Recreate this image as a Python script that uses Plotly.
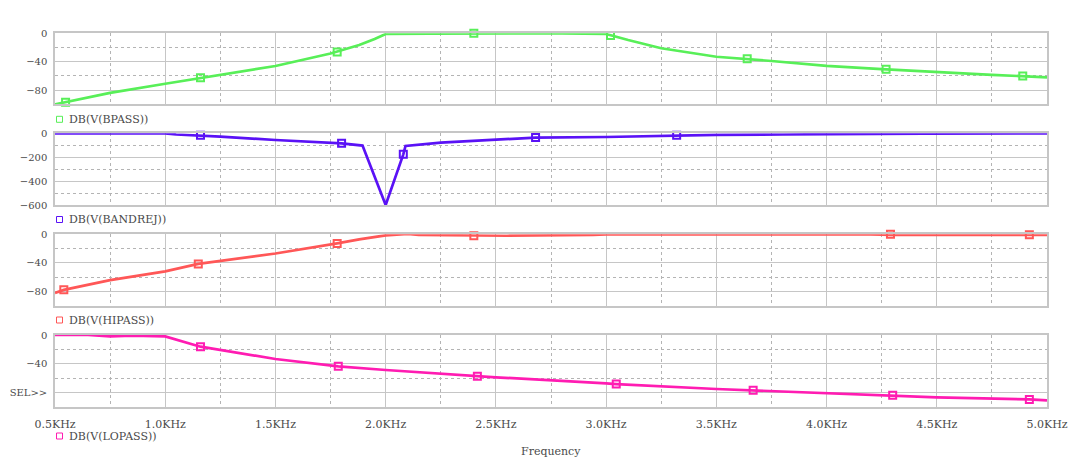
import plotly.graph_objects as go

# ---------------- data ----------------
freq_ticks = [0.5, 1.0, 1.5, 2.0, 2.5, 3.0, 3.5, 4.0, 4.5, 5.0]
freq_labels = ["0.5KHz", "1.0KHz", "1.5KHz", "2.0KHz", "2.5KHz",
               "3.0KHz", "3.5KHz", "4.0KHz", "4.5KHz", "5.0KHz"]

bpass_f = [0.5, 0.75, 1.0, 1.25, 1.5, 1.75, 1.88, 1.95, 2.0, 2.2, 2.4, 2.6,
           2.8, 3.0, 3.1, 3.25, 3.37, 3.5, 3.75, 4.0, 4.25, 4.5, 4.75, 5.0]
bpass_db = [-100, -84, -71, -58, -46, -28.5, -16.5, -8, -1, -0.5, 0, 0.5,
            0, -1, -9.5, -21, -27, -33, -39, -46, -50.5, -55, -58.5, -62]
bpass_mf = [0.548, 1.16, 1.78, 2.4, 3.02, 3.64, 4.27, 4.89]
bpass_mdb = [-97, -62.5, -26.3, 0, -3, -35.7, -50.7, -60]

bandrej_f = [0.5, 1.0, 1.05, 1.16, 1.25, 1.5, 1.75, 1.8, 1.895, 2.0, 2.08,
             2.09, 2.25, 2.5, 2.68, 3.0, 3.25, 3.32, 3.5, 3.8, 4.1, 4.44, 5.0]
bandrej_db = [0, 0, -10, -17, -28, -56, -78, -84, -103, -600, -176,
              -106, -78, -56, -36, -31, -20, -17, -13, -10, -6, -3, -1]
bandrej_mf = [1.16, 1.8, 2.08, 2.68, 3.32]
bandrej_mdb = [-17, -84, -176, -36, -17]

hipass_f = [0.5, 0.54, 0.75, 1.0, 1.15, 1.5, 1.78, 1.88, 2.0, 2.1, 2.15,
            2.4, 2.55, 2.94, 3.0, 4.2, 4.3, 5.0]
hipass_db = [-81.7, -77.5, -64, -51.6, -41.3, -26.8, -12.7, -7, -1.4, 0.5, -1,
             -2, -2, -1, 0, 0, -0.7, -0.7]
hipass_mf = [0.54, 1.15, 1.78, 2.4, 4.29, 4.92]
hipass_mdb = [-77.5, -41.3, -12.7, -2, 0, -0.7]

lopass_f = [0.5, 0.65, 0.75, 0.85, 1.0, 1.16, 1.5, 1.785, 2.0, 2.416, 2.5,
            3.0, 3.046, 3.5, 3.667, 4.0, 4.3, 4.5, 4.92, 5.0]
lopass_db = [0, 0, -2, -1, -2, -16.3, -33.5, -43.7, -48.8, -57.7, -59,
             -67.4, -68.4, -75.3, -77.2, -81.4, -84.2, -87, -89.8, -91.2]
lopass_mf = [1.16, 1.785, 2.416, 3.046, 3.667, 4.30, 4.92]
lopass_mdb = [-16.3, -43.5, -57.7, -68.4, -77.2, -84.2, -89.8]

trace_names = ["DB(V(BPASS))", "DB(V(BANDREJ))", "DB(V(HIPASS))", "DB(V(LOPASS))"]

y_major = [[0, -40, -80], [0, -200, -400, -600], [0, -40, -80], [0, -40, -80]]
y_labels = [["0", "−40", "−80"], ["0", "−200", "−400", "−600"],
            ["0", "−40", "−80"], ["0", "−40", "SEL>>"]]
y_minor = [[-20, -60], [-100, -300, -500], [-20, -60], [-20, -60]]
y_ranges = [[-100, 0], [-600, 0], [-100, 0], [-100, 0]]

# ---------------- styling / layout ----------------
W, H = 1080, 474
OFF = 8  # page body margin: figure is drawn 8px right/down of window origin
LEFT, RIGHT = 55 - OFF, 1047 - OFF
panels_px = [(33.3, 104.3), (133.3, 205.0), (234.3, 306.0), (335.0, 406.7)]
legend_y_px = [119.3, 219.5, 320.0, 436.0]
colors = ["#58ef58", "#5a12f6", "#ff5757", "#ff1cb2"]

FONT = "DejaVu Serif"
FS = 11
FSY = 10
TXT = "#4a4a4a"
GRID = "#c6c6c6"
MINOR = "#b4b4b4"

series = [
    (bpass_f, bpass_db, bpass_mf, bpass_mdb),
    (bandrej_f, bandrej_db, bandrej_mf, bandrej_mdb),
    (hipass_f, hipass_db, hipass_mf, hipass_mdb),
    (lopass_f, lopass_db, lopass_mf, lopass_mdb),
]

fig = go.Figure()
layout = dict(
    width=W, height=H, autosize=False,
    margin=dict(l=0, r=0, t=0, b=0, pad=0, autoexpand=False),
    paper_bgcolor="white", plot_bgcolor="white",
    showlegend=False,
    font=dict(family=FONT, size=FS, color=TXT),
)
shapes = []
annotations = []

for i, (f, db, mf, mdb) in enumerate(series):
    n = i + 1
    xs = "x" if n == 1 else f"x{n}"
    ys = "y" if n == 1 else f"y{n}"
    xk = "xaxis" if n == 1 else f"xaxis{n}"
    yk = "yaxis" if n == 1 else f"yaxis{n}"
    top, bot = panels_px[i]
    top -= OFF
    bot -= OFF
    last = (i == 3)
    layout[xk] = dict(
        domain=[LEFT / W, RIGHT / W], range=[0.5, 5.0], anchor=ys,
        automargin=False,
        showline=True, mirror=True, linecolor=GRID, linewidth=1.5,
        showgrid=True, gridcolor=GRID, gridwidth=1.3, zeroline=False,
        tickmode="array", tickvals=freq_ticks, ticktext=freq_labels,
        showticklabels=last, ticks="outside", ticklen=6,
        tickcolor="rgba(0,0,0,0)",
        tickfont=dict(family=FONT, size=FS, color=TXT),
        minor=dict(tickmode="array", tickvals=[0.75 + 0.5 * k for k in range(9)],
                   showgrid=True, gridcolor=MINOR, gridwidth=1,
                   griddash="3px,3px"),
        fixedrange=True,
    )
    layout[yk] = dict(
        domain=[1 - bot / H, 1 - top / H], range=y_ranges[i], anchor=xs,
        automargin=False,
        showline=True, mirror=True, linecolor=GRID, linewidth=1.5,
        showgrid=True, gridcolor=GRID, gridwidth=1.3, zeroline=False,
        tickmode="array", tickvals=y_major[i], ticktext=y_labels[i],
        ticks="outside", ticklen=4, tickcolor="rgba(0,0,0,0)",
        tickfont=dict(family=FONT, size=FSY, color=TXT),
        minor=dict(tickmode="array", tickvals=y_minor[i],
                   showgrid=True, gridcolor=MINOR, gridwidth=1,
                   griddash="3px,3px"),
        fixedrange=True,
    )
    fig.add_trace(go.Scatter(
        x=f, y=db, mode="lines", xaxis=xs, yaxis=ys,
        line=dict(color=colors[i], width=2.7), hoverinfo="skip",
    ))
    fig.add_trace(go.Scatter(
        x=mf, y=mdb, mode="markers", xaxis=xs, yaxis=ys,
        marker=dict(symbol="square-open", size=7, color=colors[i],
                    line=dict(color=colors[i], width=2)),
        cliponaxis=False, hoverinfo="skip",
    ))
    # legend-like label under each panel
    ly = 1 - (legend_y_px[i] - OFF) / H
    shapes.append(dict(
        type="rect", xref="paper", yref="paper",
        xsizemode="pixel", ysizemode="pixel",
        xanchor=(59.5 - OFF) / W, yanchor=ly, x0=-3, x1=3, y0=-3, y1=3,
        line=dict(color=colors[i], width=1), fillcolor="rgba(0,0,0,0)",
    ))
    annotations.append(dict(
        xref="paper", yref="paper", x=(67 - OFF) / W, y=ly,
        xanchor="left", yanchor="middle", showarrow=False,
        text=trace_names[i], font=dict(family=FONT, size=FS, color=TXT),
    ))

annotations.append(dict(
    xref="paper", yref="paper", x=(LEFT + RIGHT) / 2 / W, y=1 - (451 - OFF) / H,
    xanchor="center", yanchor="middle", showarrow=False,
    text="Frequency", font=dict(family=FONT, size=FS, color=TXT),
))

layout["shapes"] = shapes
layout["annotations"] = annotations
fig.update_layout(**layout)
fig.write_html("out.html", config={"responsive": False})
